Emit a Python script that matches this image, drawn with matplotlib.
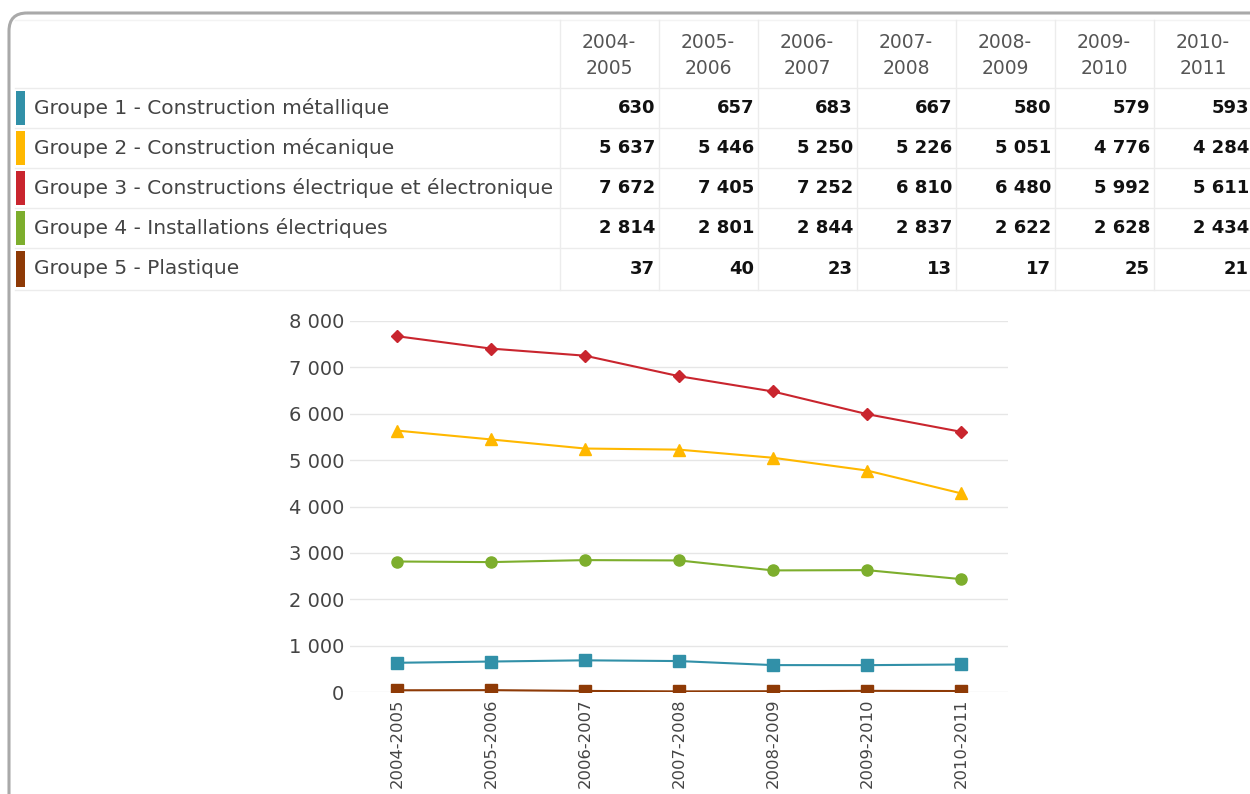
import matplotlib.pyplot as plt
from matplotlib.patches import FancyBboxPatch, Rectangle

periods = ["2004-2005", "2005-2006", "2006-2007", "2007-2008",
           "2008-2009", "2009-2010", "2010-2011"]
groups = ["Groupe 1 - Construction métallique",
          "Groupe 2 - Construction mécanique",
          "Groupe 3 - Constructions électrique et électronique",
          "Groupe 4 - Installations électriques",
          "Groupe 5 - Plastique"]
g1 = [630, 657, 683, 667, 580, 579, 593]
g2 = [5637, 5446, 5250, 5226, 5051, 4776, 4284]
g3 = [7672, 7405, 7252, 6810, 6480, 5992, 5611]
g4 = [2814, 2801, 2844, 2837, 2622, 2628, 2434]
g5 = [37, 40, 23, 13, 17, 25, 21]
series = [g1, g2, g3, g4, g5]
colors = ["#3190a8", "#ffb800", "#c9252e", "#7dae2d", "#8e3a06"]
markers = ["s", "^", "D", "o", "s"]
msizes = [8, 8, 6, 8, 8]
yticks = [0, 1000, 2000, 3000, 4000, 5000, 6000, 7000, 8000]

plt.rcParams['font.family'] = ['DejaVu Sans']

def fmt(v):
    return "{:,}".format(v).replace(",", " ")

fig = plt.figure(figsize=(12.5, 7.94), dpi=100)

# pixel overlay for frame + table
bg = fig.add_axes([0, 0, 1, 1])
bg.set_xlim(0, 1250)
bg.set_ylim(794, 0)
bg.axis("off")

frame = FancyBboxPatch((9, 13), 1300, 900, boxstyle="round,pad=0,rounding_size=18",
                       fill=False, edgecolor="#a9a9a9", linewidth=2.2, clip_on=False)
bg.add_patch(frame)

grid_c = "#ececec"
row_edges = [88, 128, 168, 208, 248, 290]
col_edges = [560 + 99 * i for i in range(8)]
bg.plot([15, 1250], [20, 20], color="#f3f3f3", lw=1)
for y in row_edges:
    bg.plot([15, 1250], [y, y], color=grid_c, lw=1)
for x in col_edges:
    bg.plot([x, x], [20, 290], color=grid_c, lw=1)

for j, p in enumerate(periods):
    a, b = p.split("-")
    cx = col_edges[j] + 49
    bg.text(cx, 42, a + "-", ha="center", va="center", fontsize=13.5, color="#555555")
    bg.text(cx, 69, b, ha="center", va="center", fontsize=13.5, color="#555555")

for i, (name, vals) in enumerate(zip(groups, series)):
    top = row_edges[i]
    cy = (top + row_edges[i + 1]) / 2
    bg.add_patch(Rectangle((16, top + 3), 9, row_edges[i + 1] - top - 6,
                           color=colors[i], lw=0))
    bg.text(34, cy, name, ha="left", va="center", fontsize=14.5, color="#444444")
    for j, v in enumerate(vals):
        bg.text(col_edges[j + 1] - 4, cy, fmt(v), ha="right", va="center",
                fontsize=13, fontweight="bold", color="#111111")

# line chart
ax = fig.add_axes([350 / 1250, (794 - 692) / 794, 658 / 1250, 371 / 794])
ax.set_facecolor("none")
x = list(range(len(periods)))
for i, vals in enumerate(series):
    ax.plot(x, vals, color=colors[i], marker=markers[i], markersize=msizes[i],
            linewidth=1.5, zorder=3)
ax.set_xlim(-0.5, 6.5)
ax.set_ylim(0, 8000)
ax.set_yticks(yticks)
ax.set_yticklabels([fmt(v) for v in yticks], fontsize=14, color="#444444")
ax.set_xticks(x)
ax.set_xticklabels(periods, rotation=90, fontsize=11.8, color="#444444", va="top")
ax.tick_params(axis="y", length=0, pad=4)
ax.tick_params(axis="x", length=0, pad=5)
ax.grid(axis="y", color="#e6e6e6", linewidth=1)
ax.set_axisbelow(True)
for s in ax.spines.values():
    s.set_visible(False)

fig.savefig("out.png", dpi=100)
